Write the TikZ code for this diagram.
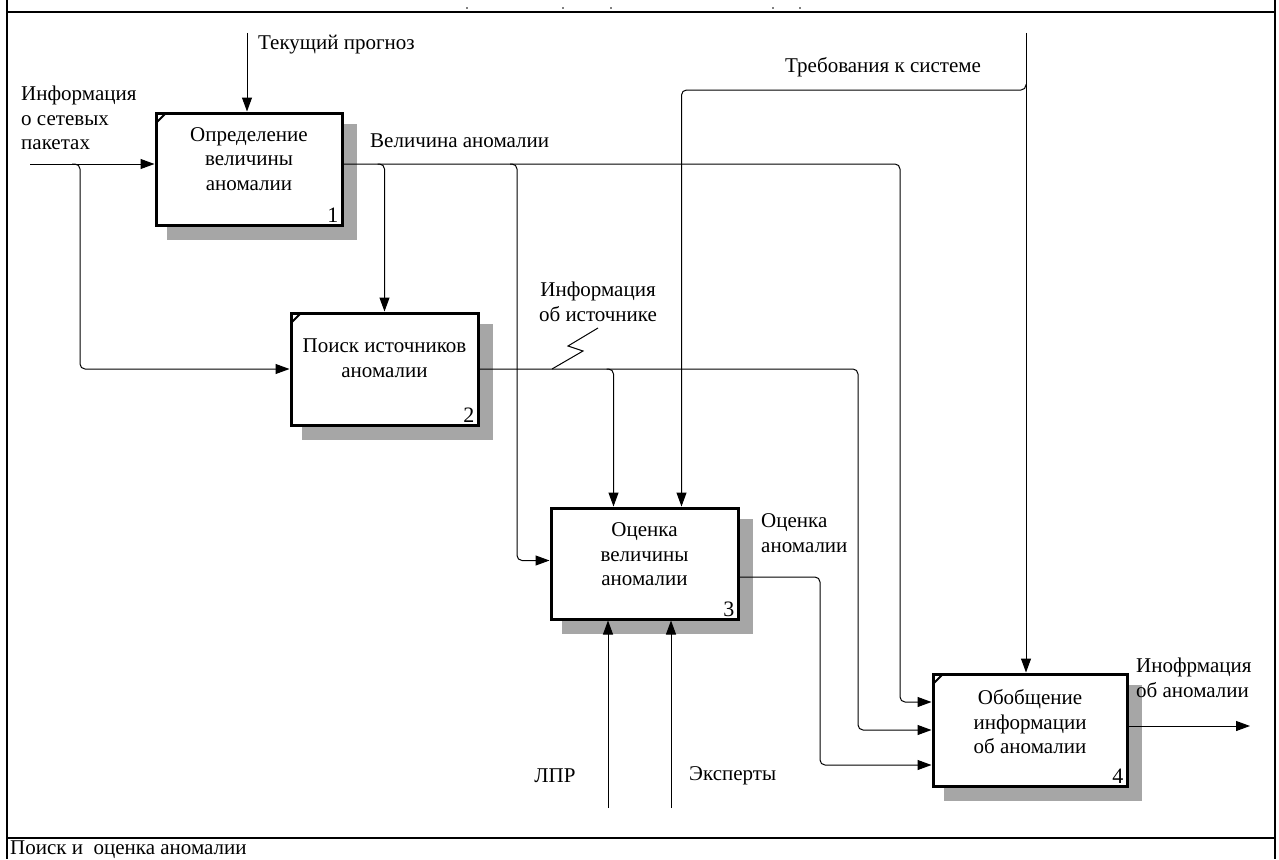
\documentclass[tikz,border=0pt]{standalone}
\usepackage{fontspec}
\setmainfont{Liberation Serif}
\usetikzlibrary{arrows.meta,calc,backgrounds}
\tikzset{
 box/.style={draw, line width=3pt, fill=white, minimum width=187pt, minimum height=112pt, inner sep=0pt},
 shadowbox/.style={fill=black!35, draw=none},
 arr/.style={line width=1pt, -{Triangle[length=14pt,width=10pt]}},
 conn/.style={line width=1pt},
 rc/.style={rounded corners=5pt},
 lbl/.style={font=\fontsize{21}{24.5}\selectfont, inner sep=0pt},
 num/.style={font=\fontsize{22}{24}\selectfont, inner sep=0pt, anchor=south east},
 frame/.style={line width=1.6pt},
 cornermark/.style={line width=2pt}
}
\begin{document}
\begin{tikzpicture}[x=1pt,y=-1pt]
\useasboundingbox (0,0) rectangle (1279,859);
% frame
\draw[frame] (7,0) -- (7,859);
\draw[frame] (1275,0) -- (1275,859);
\draw[frame] (7,12) -- (1275,12);
\draw[frame] (7,838) -- (1275,838);
\foreach \x in {467,563,611,773,800} \fill (\x,8) circle (0.9);

% boxes
\node[box, minimum width=186pt] (b1) at (249,169) {};
\node[box] (b2) at (384.5,369) {};
\node[box, minimum height=111pt] (b3) at (644.5,563.5) {};
\node[box, minimum width=194pt] (b4) at (1030,730) {};

\begin{scope}[on background layer]
\foreach \b in {b1,b2,b3,b4}
  \fill[shadowbox] ($(\b.north west)+(12,12)$) rectangle ($(\b.south east)+(13,13)$);
\end{scope}

\foreach \b in {b1,b2,b4}
  \draw[cornermark] ($(\b.north west)+(1.5,11.5)$) -- ($(\b.north west)+(11.5,1.5)$);

\node[lbl, align=center] (t1) at ($(b1.center)+(0,-10)$) {Определение\\величины\\аномалии};
\node[lbl, align=center] (t2) at ($(b2.center)+(0,-11)$) {Поиск источников\\аномалии};
\node[lbl, align=center] (t3) at ($(b3.center)+(0,-9)$) {Оценка\\величины\\аномалии};
\node[lbl, align=center] (t4) at ($(b4.center)+(0,-8)$) {Обобщение\\информации\\об аномалии};
\node[num] (n1) at ($(b1.south east)+(-5,-4)$) {1};
\node[num] (n2) at ($(b2.south east)+(-5,-4)$) {2};
\node[num] (n3) at ($(b3.south east)+(-5,-4)$) {3};
\node[num] (n4) at ($(b4.south east)+(-5,-4)$) {4};

% control into box 1
\coordinate (tpS) at (247,33);
\draw[arr] (tpS) -- (tpS |- b1.north);

% input information
\coordinate (inS) at (30,164);
\draw[arr] (inS) -- (inS -| b1.west);
\coordinate (j1) at (80,164);
\draw[arr,rc] ($(j1)+(-8,0)$) -- (j1) |- (b2.west);

% output of box 1
\coordinate (o1) at ($(b1.east)+(0,-5)$);
\coordinate (k1) at (900,702);
\coordinate (b4i1) at ($(b4.west)+(0,-28)$);
\draw[arr,rc] (o1) -| (k1) -- (b4i1);
\coordinate (j2) at (b2.north |- o1);
\draw[arr,rc] ($(j2)+(-7,0)$) -- (j2) -- (b2.north);
\coordinate (j3) at (517,164);
\coordinate (b3i) at ($(b3.west)+(0,-3)$);
\draw[arr,rc] ($(j3)+(-7,0)$) -- (j3) |- (b3i);

% output of box 2
\coordinate (k3) at (858,730);
\draw[arr,rc] (b2.east) -| (k3) -- (b4.west);
\coordinate (b3t1) at ($(b3.north)+(-31,0)$);
\coordinate (j4) at (b3t1 |- b2.east);
\draw[arr,rc] ($(j4)+(-7,0)$) -- (j4) -- (b3t1);
\coordinate (z0) at (552,369);
\coordinate (z1) at (583,351);
\coordinate (z2) at (568,346);
\coordinate (z3) at (598,328);
\draw[conn] (z0) -- (z1) -- (z2) -- (z3);

% requirements
\coordinate (rqS) at (1026,33);
\draw[arr] (rqS) -- (rqS |- b4.north);
\coordinate (rqB) at (1026,84);
\coordinate (b3t2) at ($(b3.north)+(37,0)$);
\coordinate (k4) at (b3t2 |- rqB);
\coordinate (k4b) at ($(k4)+(0,6)$);
\draw[arr,rc] (rqB) |- (k4b) -- (b3t2);

% output of box 3
\coordinate (o3) at ($(b3.east)+(0,13.5)$);
\coordinate (b4i3) at ($(b4.west)+(0,35)$);
\coordinate (k5) at (820,765);
\draw[arr,rc] (o3) -| (k5) -- (b4i3);

% output of box 4
\coordinate (o4) at ($(b4.east)+(0,-4)$);
\coordinate (outE) at (1250,726);
\draw[arr] (o4) -- (outE);

% mechanisms
\coordinate (lprS) at (608,808);
\draw[arr] (lprS) -- (lprS |- b3.south);
\coordinate (expS) at (671,808);
\draw[arr] (expS) -- (expS |- b3.south);

% labels
\node[lbl, anchor=west] (lTP) at (258,45) {Текущий прогноз};
\node[lbl, anchor=west, align=left] (lIn) at (21,118) {Информация\\о сетевых\\пакетах};
\node[lbl, anchor=west] (lVA) at (370,141) {Величина аномалии};
\node[lbl, align=center] (lIS) at (598,302) {Информация\\об источнике};
\node[lbl, anchor=west] (lRQ) at (785,67) {Требования к системе};
\node[lbl, anchor=west, align=left] (lOA) at (761,533) {Оценка\\аномалии};
\node[lbl, anchor=west, align=left] (lIA) at (1136,678) {Инофрмация\\об аномалии};
\node[lbl] (lLPR) at (555,776) {ЛПР};
\node[lbl, anchor=west] (lEX) at (689,776) {Эксперты};
\node[lbl, anchor=west] (lFt) at (10,850) {Поиск и\ \ оценка аномалии};
\end{tikzpicture}
\end{document}
